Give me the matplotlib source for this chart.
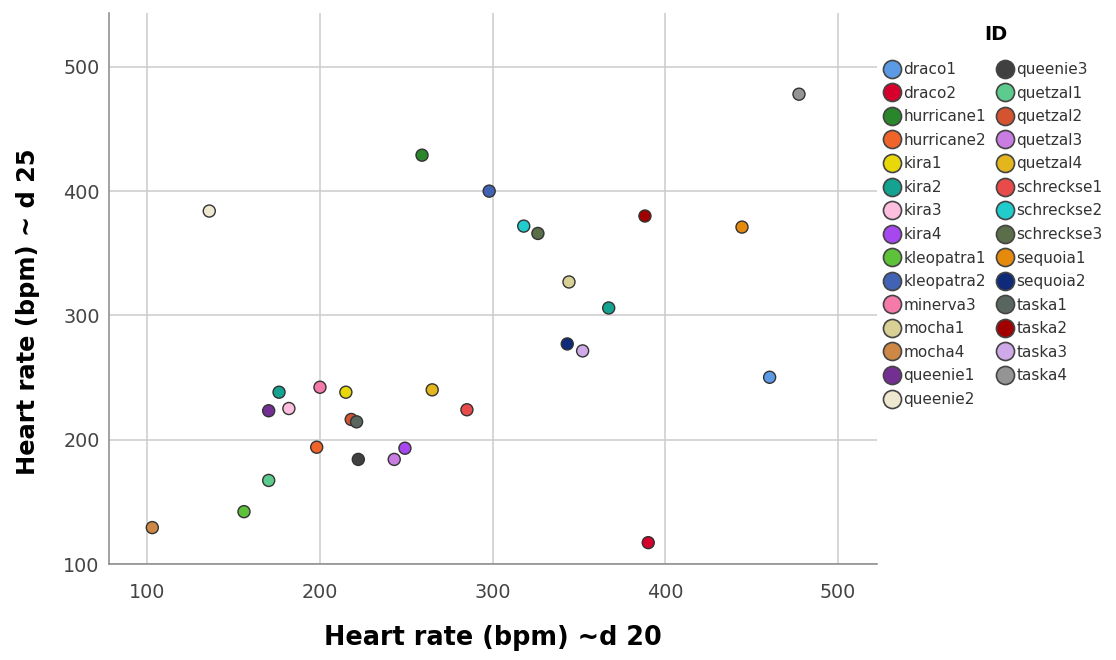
import matplotlib
matplotlib.use('Agg')
import matplotlib.pyplot as plt
from matplotlib.lines import Line2D

plt.rcParams['font.family'] = ['DejaVu Sans']

# one entry per measured point (kira2 shows up twice)
point_ids = ['mocha4', 'kleopatra1', 'quetzal1', 'queenie1', 'kira2', 'kira3',
             'minerva3', 'hurricane2', 'kira1', 'quetzal2', 'taska1', 'queenie3',
             'quetzal3', 'kira4', 'quetzal4', 'schreckse1', 'queenie2', 'hurricane1',
             'kleopatra2', 'schreckse2', 'schreckse3', 'taska2', 'mocha1', 'kira2',
             'sequoia2', 'taska3', 'taska4', 'sequoia1', 'draco1', 'draco2']
hr_d20 = [102.9, 156.0, 170.3, 170.3, 176.3, 182.0,
          200.0, 198.1, 215.0, 218.1, 221.2, 222.2,
          243.0, 249.2, 265.0, 285.1, 135.9, 259.1,
          298.0, 318.0, 326.2, 388.2, 344.2, 367.2,
          343.2, 352.1, 477.4, 444.4, 460.4, 390.1]
hr_d25 = [129.5, 142.3, 167.4, 223.4, 238.3, 225.2,
          242.3, 194.1, 238.3, 216.4, 214.5, 184.3,
          184.3, 193.3, 240.2, 224.2, 383.9, 428.8,
          399.9, 371.8, 365.9, 379.9, 326.9, 306.0,
          277.1, 271.5, 477.8, 371.0, 250.3, 117.4]

legend_ids = ['draco1', 'draco2', 'hurricane1', 'hurricane2', 'kira1', 'kira2',
              'kira3', 'kira4', 'kleopatra1', 'kleopatra2', 'minerva3', 'mocha1',
              'mocha4', 'queenie1', 'queenie2', 'queenie3', 'quetzal1', 'quetzal2',
              'quetzal3', 'quetzal4', 'schreckse1', 'schreckse2', 'schreckse3',
              'sequoia1', 'sequoia2', 'taska1', 'taska2', 'taska3', 'taska4']
id_colors = ['#5B9BE6', '#D6002C', '#2A862A', '#F0642A', '#E8D80A', '#13A390',
             '#FDBFDD', '#A647F0', '#5DC13A', '#4263B3', '#F57AAA', '#D8D095',
             '#CC8844', '#733092', '#EFE8D0', '#404040', '#5DCB8E', '#D45331',
             '#C97CE2', '#E2B61C', '#E94A4A', '#20CCCC', '#5B6E4A',
             '#E68A0E', '#0F2A78', '#596660', '#A00000', '#D0AAE8', '#949494']

color_of = dict(zip(legend_ids, id_colors))

fig = plt.figure(figsize=(11.16, 6.6), dpi=100)
ax = fig.add_axes([109.3 / 1116, 95.7 / 660, 767.4 / 1116, 551.6 / 660])

ax.scatter(hr_d20, hr_d25, s=75, c=[color_of[i] for i in point_ids],
           edgecolors='#333333', linewidths=1.0, zorder=3)

ax.set_xlim(78, 522.4)
ax.set_ylim(100, 543.3)
ax.set_xticks([100, 200, 300, 400, 500])
ax.set_yticks([100, 200, 300, 400, 500])
ax.grid(True, color='#cccccc', linewidth=1.1)
ax.set_axisbelow(True)
for side in ['top', 'right']:
    ax.spines[side].set_visible(False)
for side in ['left', 'bottom']:
    ax.spines[side].set_color('#888888')
    ax.spines[side].set_linewidth(1.1)
ax.tick_params(length=0, labelsize=13.8, labelcolor='#444444')
ax.tick_params(axis='y', pad=7)
ax.tick_params(axis='x', pad=13.5)

ax.set_xlabel('Heart rate (bpm) ~d 20', fontsize=18.4, fontweight='bold')
ax.set_ylabel('Heart rate (bpm) ~ d 25', fontsize=17.4, fontweight='bold')
ax.xaxis.set_label_coords(0.5, -0.134)
ax.xaxis.label.set_va('center')
ax.yaxis.set_label_coords(-0.106, 0.457)
ax.yaxis.label.set_va('center')

# legend without built-in title, title placed separately to get the wider gap
handles = [Line2D([], [], linestyle='none', marker='o', markersize=13,
                  markerfacecolor=c, markeredgecolor='#444444', markeredgewidth=1.2)
           for c in id_colors]
leg = ax.legend(handles, legend_ids, ncol=2, loc='upper left',
                bbox_to_anchor=(878 / 1116, 604 / 660), bbox_transform=fig.transFigure,
                frameon=False, fontsize=11, handlelength=1.0, handletextpad=0.25,
                columnspacing=0.75, labelspacing=0.56, borderaxespad=0)
for t in leg.get_texts():
    t.set_color('#333333')
fig.text(996 / 1116, 1 - 34 / 660, 'ID', fontsize=14, fontweight='bold',
         ha='center', va='center')

fig.savefig('out.png', dpi=100)
